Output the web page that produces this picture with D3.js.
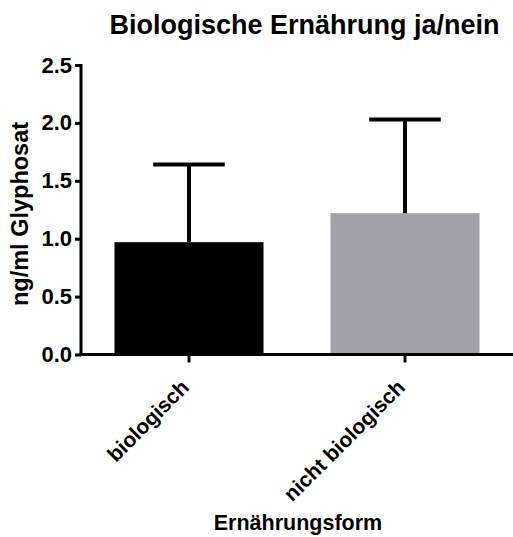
<!DOCTYPE html>
<html>
<head>
<meta charset="utf-8">
<script src="https://cdn.jsdelivr.net/npm/d3@7"></script>
<style>
  html, body { margin: 0; padding: 0; background: #fff; }
  svg { display: block; font-family: "Liberation Sans", Arial, sans-serif; }
</style>
</head>
<body>
<svg id="chart" width="513" height="537"></svg>
<script>
// Glyphosate concentration by diet type (mean + upper SD)
const categories = ["biologisch", "nicht biologisch"];
const means = [0.97, 1.22];
const errorTops = [1.64, 2.03];
const barColors = ["#000000", "#a2a1a6"];
const yTicks = [0.0, 0.5, 1.0, 1.5, 2.0, 2.5];

const svg = d3.select("#chart");

const x = d3.scaleBand()
  .domain(categories)
  .range([81, 513])
  .paddingInner(0.31)
  .paddingOuter(0.155);

const y = d3.scaleLinear()
  .domain([0, 2.5])
  .range([354.5, 65]);

// Bars
svg.append("g")
  .selectAll("rect")
  .data(categories)
  .join("rect")
  .attr("x", d => x(d))
  .attr("width", x.bandwidth())
  .attr("y", (d, i) => y(means[i]))
  .attr("height", (d, i) => y(0) - y(means[i]))
  .attr("fill", (d, i) => barColors[i]);

// Upper error bars
const capHalf = x.bandwidth() * 0.24;
const err = svg.append("g").attr("stroke", "#000").attr("stroke-width", 4);
categories.forEach((c, i) => {
  const cx = x(c) + x.bandwidth() / 2;
  err.append("line")
    .attr("x1", cx).attr("x2", cx)
    .attr("y1", y(means[i])).attr("y2", y(errorTops[i]));
  err.append("line")
    .attr("x1", cx - capHalf).attr("x2", cx + capHalf)
    .attr("y1", y(errorTops[i])).attr("y2", y(errorTops[i]));
});

// Y axis
const yAxis = svg.append("g")
  .attr("transform", "translate(81,0)")
  .call(d3.axisLeft(y).tickValues(yTicks).tickFormat(d3.format(".1f")).tickSize(6).tickPadding(3).tickSizeOuter(0));
yAxis.select(".domain").attr("stroke-width", 3).attr("d", `M0,${y(2.5) - 1}V${y(0) + 1.5}`);
yAxis.selectAll(".tick line").attr("stroke-width", 3);
yAxis.selectAll(".tick text")
  .attr("font-size", 22).attr("font-weight", "bold").attr("fill", "#000")
  .attr("font-family", "Liberation Sans, Arial, sans-serif");

// X axis
const xAxis = svg.append("g")
  .attr("transform", `translate(0,${y(0)})`)
  .call(d3.axisBottom(x).tickSize(8).tickSizeOuter(0).tickPadding(4));
xAxis.select(".domain").attr("stroke-width", 3).attr("d", `M79.5,0H513`);
xAxis.selectAll(".tick line").attr("stroke-width", 3);
xAxis.selectAll(".tick text")
  .attr("font-size", 21).attr("font-weight", "bold").attr("fill", "#000")
  .attr("font-family", "Liberation Sans, Arial, sans-serif")
  .attr("text-anchor", "end")
  .attr("dy", "0.35em")
  .attr("transform", "translate(-4,29) rotate(-45)")
  .attr("y", 0).attr("x", 0);

// Title
svg.append("text")
  .attr("x", 304.5).attr("y", 34)
  .attr("text-anchor", "middle")
  .attr("font-size", 27).attr("font-weight", "bold")
  .text("Biologische Ernährung ja/nein");

// Y axis title
svg.append("text")
  .attr("transform", `translate(28,${214}) rotate(-90)`)
  .attr("text-anchor", "middle")
  .attr("font-size", 23.5).attr("font-weight", "bold")
  .text("ng/ml Glyphosat");

// X axis title
svg.append("text")
  .attr("x", 298).attr("y", 530)
  .attr("text-anchor", "middle")
  .attr("font-size", 21.5).attr("font-weight", "bold")
  .text("Ernährungsform");
</script>
</body>
</html>
